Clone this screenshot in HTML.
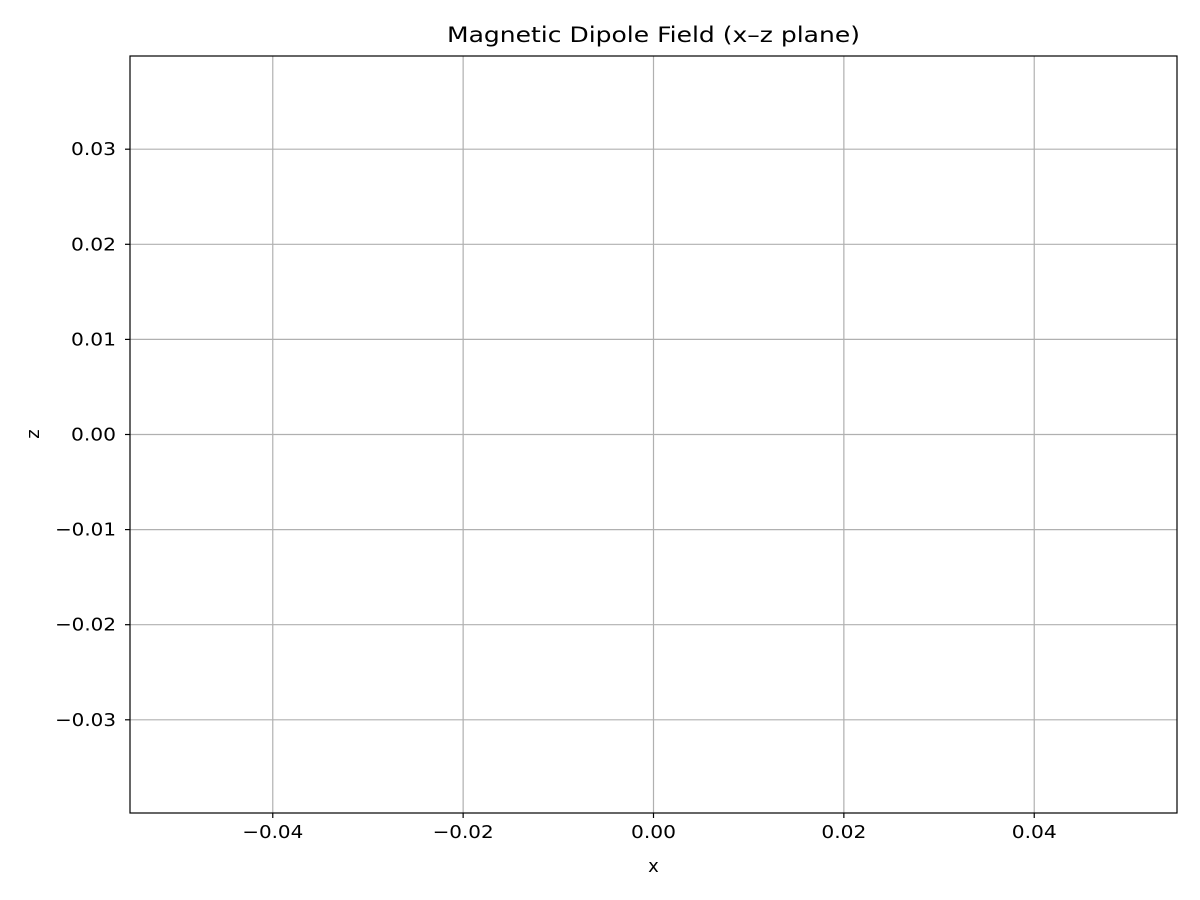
<!DOCTYPE html>
<html><head><meta charset="utf-8"><style>
body{margin:0;background:#fff;}
svg{display:block;font-family:"DejaVu Sans","Liberation Sans",sans-serif;}
</style></head><body>
<svg id="chart" width="1200" height="900">
<rect x="0" y="0" width="1200" height="900" fill="#fff"/>
<g id="grid"></g>
<g id="ticks"></g>
<rect x="130" y="56" width="1047" height="757" fill="none" stroke="#000" stroke-width="1.2"/>
<text x="653.5" y="42" text-anchor="middle" font-size="21" textLength="413" lengthAdjust="spacingAndGlyphs">Magnetic Dipole Field (x–z plane)</text>
<text x="653.5" y="872" text-anchor="middle" font-size="18">x</text>
<text x="39" y="434" text-anchor="middle" font-size="18" transform="rotate(-90 39 434)">z</text>
</svg>
<script>
const xTicks=[-0.04,-0.02,0,0.02,0.04];
const xTickLabels=["−0.04","−0.02","0.00","0.02","0.04"];
const yTicks=[-0.03,-0.02,-0.01,0,0.01,0.02,0.03];
const yTickLabels=["−0.03","−0.02","−0.01","0.00","0.01","0.02","0.03"];
const xDomain=[-0.055,0.055], yDomain=[-0.0398,0.0398];
const L=130,R=1177,T=56,B=813;
const sx=v=>L+(v-xDomain[0])/(xDomain[1]-xDomain[0])*(R-L);
const sy=v=>B-(v-yDomain[0])/(yDomain[1]-yDomain[0])*(B-T);
const NS="http://www.w3.org/2000/svg";
const grid=document.getElementById('grid'),ticks=document.getElementById('ticks');
function mk(tag,attrs,parent){const e=document.createElementNS(NS,tag);for(const k in attrs)e.setAttribute(k,attrs[k]);parent.appendChild(e);return e;}
const lw=s=>s.startsWith('−')?61:45;
xTicks.forEach((v,i)=>{
 const x=sx(v);
 const g=mk('line',{x1:x,x2:x,y1:T,y2:B,stroke:'#b0b0b0','stroke-width':1.2},grid);
 
 
 const t=mk('line',{x1:x,x2:x,y1:B,y2:B+5,stroke:'#000','stroke-width':1.2},ticks);
 
 
 const l=mk('text',{x:x,y:B+25,'text-anchor':'middle','font-size':18,textLength:lw(xTickLabels[i]),lengthAdjust:'spacingAndGlyphs'},ticks);
 l.textContent=xTickLabels[i];
 
 
});
yTicks.forEach((v,i)=>{
 const y=sy(v);
 const g=mk('line',{x1:L,x2:R,y1:y,y2:y,stroke:'#b0b0b0','stroke-width':1.2},grid);
 
 
 const t=mk('line',{x1:L-5,x2:L,y1:y,y2:y,stroke:'#000','stroke-width':1.2},ticks);
 
 
 const l=mk('text',{x:L-14,y:y+6,'text-anchor':'end','font-size':18,textLength:lw(yTickLabels[i]),lengthAdjust:'spacingAndGlyphs'},ticks);
 l.textContent=yTickLabels[i];
 
 
});
</script>
</body></html>
